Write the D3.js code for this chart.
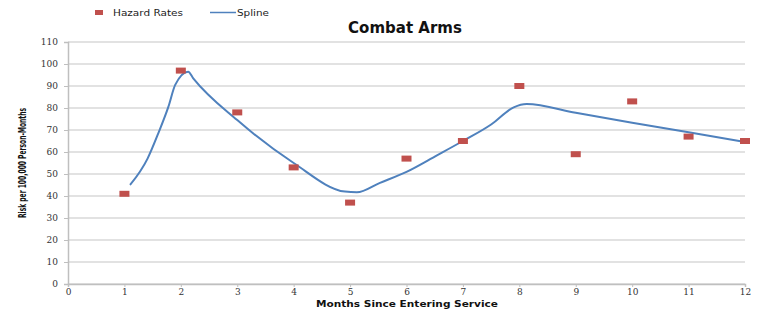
<!DOCTYPE html>
<html>
<head>
<meta charset="utf-8">
<script src="https://cdn.jsdelivr.net/npm/d3@7"></script>
<style>
  body { margin: 0; background: #fff; }
  svg text { font-family: "DejaVu Sans", sans-serif; }
</style>
</head>
<body>
<div id="chart"></div>
<script>
const months = [1, 2, 3, 4, 5, 6, 7, 8, 9, 10, 11, 12];
const hazardRates = [41, 97, 78, 53, 37, 57, 65, 90, 59, 83, 67, 65];

// spline
const splineX = [1.1, 1.41, 1.6, 1.78, 1.9, 2.13, 2.22, 3.0, 4.0, 4.91, 5.12, 5.53, 6.0, 6.54, 7.0, 7.5, 7.9, 8.13, 9, 10, 11, 12];
const splineY = [45, 57, 68.5, 80.6, 90.5, 96.5, 93.5, 74.5, 55, 42, 41.7, 46, 51, 58.5, 65, 72.5, 80.3, 81.8, 77.8, 73.3, 69, 64.5];

const yTicks = d3.range(0, 111, 10);
const xTicks = d3.range(0, 13, 1);

const width = 760, height = 310;
const margin = {left: 68, right: 15, top: 42, bottom: 26};

const svg = d3.select("#chart").append("svg")
  .attr("width", width)
  .attr("height", height);

const x = d3.scaleLinear().domain([0, 12]).range([margin.left, width - margin.right]);
const y = d3.scaleLinear().domain([0, 110]).range([height - margin.bottom, margin.top]);

// gridlines
svg.append("g")
  .selectAll("line")
  .data(yTicks)
  .enter()
  .append("line")
  .attr("x1", x(0))
  .attr("x2", x(12))
  .attr("y1", d => y(d))
  .attr("y2", d => y(d))
  .attr("stroke", "#d9d9d9")
  .attr("stroke-width", 1.5);

// y axis
const yAxis = svg.append("g")
  .attr("transform", "translate(" + x(0) + ",0)")
  .call(d3.axisLeft(y).tickValues(yTicks).tickSize(4).tickPadding(6));
yAxis.select(".domain").attr("stroke", "#bfbfbf").attr("stroke-width", 1.5);
yAxis.selectAll(".tick line").attr("stroke", "#bfbfbf");
yAxis.selectAll("text").attr("font-size", 9).attr("fill", "#333")
  .style("font-family", "'DejaVu Serif', serif");

// x axis
const xAxis = svg.append("g")
  .attr("transform", "translate(0," + y(0) + ")")
  .call(d3.axisBottom(x).tickValues(xTicks).tickSize(3).tickPadding(2).tickFormat(d3.format("d")));
xAxis.select(".domain").attr("stroke", "#bfbfbf").attr("stroke-width", 1.5);
xAxis.selectAll(".tick line").attr("stroke", "#bfbfbf");
xAxis.selectAll("text").attr("font-size", 9).attr("fill", "#333")
  .style("font-family", "'DejaVu Serif', serif");

// spline
const line = d3.line()
  .x(d => x(d[0]))
  .y(d => y(d[1]))
  .curve(d3.curveMonotoneX);

svg.append("path")
  .datum(d3.zip(splineX, splineY))
  .attr("d", line)
  .attr("fill", "none")
  .attr("stroke", "#4f81bd")
  .attr("stroke-width", 2);

// hazard rate markers
svg.append("g")
  .selectAll("rect")
  .data(d3.zip(months, hazardRates))
  .enter()
  .append("rect")
  .attr("x", d => x(d[0]) - 5)
  .attr("y", d => y(d[1]) - 3)
  .attr("width", 10)
  .attr("height", 6)
  .attr("fill", "#c0504d");

// title
svg.append("text")
  .attr("x", 405)
  .attr("y", 33)
  .attr("text-anchor", "middle")
  .attr("font-size", 15)
  .attr("font-weight", "bold")
  .style("font-family", "'DejaVu Sans', sans-serif")
  .attr("fill", "#111")
  .text("Combat Arms");

// axis titles
svg.append("text")
  .attr("x", 407)
  .attr("y", 307)
  .attr("text-anchor", "middle")
  .attr("font-size", 9)
  .attr("font-weight", "bold")
  .attr("textLength", 182)
  .attr("lengthAdjust", "spacingAndGlyphs")
  .style("font-family", "'DejaVu Sans', sans-serif")
  .attr("fill", "#111")
  .text("Months Since Entering Service");

svg.append("text")
  .attr("transform", "translate(26,163) rotate(-90)")
  .attr("text-anchor", "middle")
  .attr("font-size", 10)
  .attr("font-weight", "bold")
  .attr("textLength", 110)
  .attr("lengthAdjust", "spacingAndGlyphs")
  .style("font-family", "'DejaVu Sans Condensed', sans-serif")
  .attr("fill", "#111")
  .text("Risk per 100,000 Person-Months");

// legend
const legend = svg.append("g");
legend.append("rect")
  .attr("x", 95).attr("y", 10).attr("width", 8).attr("height", 5)
  .attr("fill", "#c0504d");
legend.append("text")
  .attr("x", 113).attr("y", 16)
  .attr("font-size", 9)
  .attr("textLength", 70)
  .attr("lengthAdjust", "spacingAndGlyphs")
  .attr("fill", "#222")
  .text("Hazard Rates");
legend.append("line")
  .attr("x1", 210).attr("x2", 236).attr("y1", 12.5).attr("y2", 12.5)
  .attr("stroke", "#4f81bd").attr("stroke-width", 1.5);
legend.append("text")
  .attr("x", 237).attr("y", 16)
  .attr("font-size", 9)
  .attr("textLength", 32)
  .attr("lengthAdjust", "spacingAndGlyphs")
  .attr("fill", "#222")
  .text("Spline");
</script>
</body>
</html>
